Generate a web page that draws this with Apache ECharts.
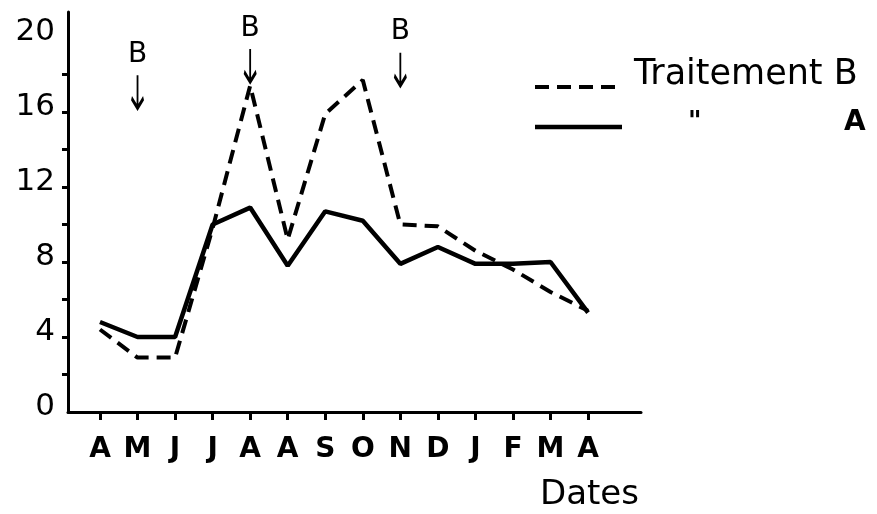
<!DOCTYPE html>
<html>
<head>
<meta charset="utf-8">
<script src="https://cdn.jsdelivr.net/npm/echarts@6/dist/echarts.min.js"></script>
<style>
html,body{margin:0;padding:0;background:#fff;}
#chart{width:877px;height:514px;}
</style>
</head>
<body>
<div id="chart"></div>
<script>
// Month categories (April to April)
var months = ['A','M','J','J','A','A','S','O','N','D','J','F','M','A'];
// Traitement B (dashed)
var traitementB = [4.4, 2.9, 2.9, 9.8, 17.4, 9.2, 15.9, 17.7, 10.0, 9.9, 8.6, 7.6, 6.4, 5.4];
// Traitement A (solid)
var traitementA = [4.8, 4.0, 4.0, 10.0, 10.9, 7.8, 10.7, 10.2, 7.9, 8.8, 7.9, 7.9, 8.0, 5.3];
// Treatment B application markers: [month index, arrow tip value]
var markersB = [[1, 16.2], [4, 17.6], [8, 17.4]];
// Axis ticks and labels
var yTickValues = [2, 4, 6, 8, 10, 12, 14, 16, 18];
var yLabelValues = [0, 4, 8, 12, 16, 20];
var xTickValues = months.map(function (m, i) { return i; });

var FONT = 'DejaVu Sans';
var chart = echarts.init(document.getElementById('chart'), null, {renderer: 'canvas'});

var arrowPath = 'path://M6,0 L6,33 M0,23 L6,33 L12,23';

chart.setOption({
  animation: false,
  backgroundColor: '#fff',
  grid: {left: 68, top: 12, right: 236, bottom: 102, containLabel: false},
  xAxis: {
    type: 'value',
    min: -0.852,
    max: 14.41,
    splitLine: {show: false},
    axisLine: {show: true, onZero: false, lineStyle: {color: '#000', width: 3}},
    axisTick: {show: true, customValues: xTickValues, length: 8, lineStyle: {color: '#000', width: 3}},
    axisLabel: {
      customValues: xTickValues,
      margin: 24,
      fontFamily: FONT,
      fontWeight: 'bold',
      fontSize: 28,
      color: '#000',
      formatter: function (v) { return months[Math.round(v)]; }
    }
  },
  yAxis: {
    type: 'value',
    min: 0,
    max: 21.33,
    splitLine: {show: false},
    axisLine: {show: true, onZero: false, lineStyle: {color: '#000', width: 3}},
    axisTick: {show: true, customValues: yTickValues, length: 6, lineStyle: {color: '#000', width: 3}},
    axisLabel: {
      customValues: yLabelValues,
      margin: 13,
      color: '#000',
      formatter: function (v) { return '{n|' + v + '}'; },
      rich: {
        n: {fontFamily: FONT, fontSize: 31, color: '#000', padding: [0, 0, 10, 0]}
      }
    }
  },
  series: [
    {
      name: 'Traitement B',
      type: 'line',
      symbol: 'none',
      data: traitementB.map(function (v, i) { return [i, v]; }),
      lineStyle: {color: '#000', width: 4, type: [14, 8]},
      markPoint: {
        symbol: arrowPath,
        symbolSize: [12, 33],
        symbolOffset: [0, '-50%'],
        itemStyle: {color: 'transparent', borderColor: '#000', borderWidth: 3},
        label: {
          show: true,
          position: 'top',
          distance: 4,
          formatter: 'B',
          fontFamily: FONT,
          fontSize: 28,
          color: '#000'
        },
        data: markersB.map(function (m) { return {coord: m}; })
      },
      z: 3
    },
    {
      name: 'A',
      type: 'line',
      symbol: 'none',
      data: traitementA.map(function (v, i) { return [i, v]; }),
      lineStyle: {color: '#000', width: 4.5},
      z: 2
    }
  ],
  graphic: [
    {type: 'line', shape: {x1: 535, y1: 87, x2: 622, y2: 87},
     style: {stroke: '#000', lineWidth: 4, lineDash: [14, 8]}},
    {type: 'line', shape: {x1: 535, y1: 127, x2: 622, y2: 127},
     style: {stroke: '#000', lineWidth: 4.5}},
    {type: 'text', left: 634, top: 57,
     style: {text: 'Traitement B', font: '35px "DejaVu Sans"', fill: '#000'}},
    {type: 'text', left: 688, top: 110,
     style: {text: '"', font: 'bold 26px "DejaVu Sans"', fill: '#000'}},
    {type: 'text', left: 844, top: 109,
     style: {text: 'A', font: 'bold 28px "DejaVu Sans"', fill: '#000'}},
    {type: 'text', left: 540, top: 478,
     style: {text: 'Dates', font: '34px "DejaVu Sans"', fill: '#000'}}
  ]
});
</script>
</body>
</html>
